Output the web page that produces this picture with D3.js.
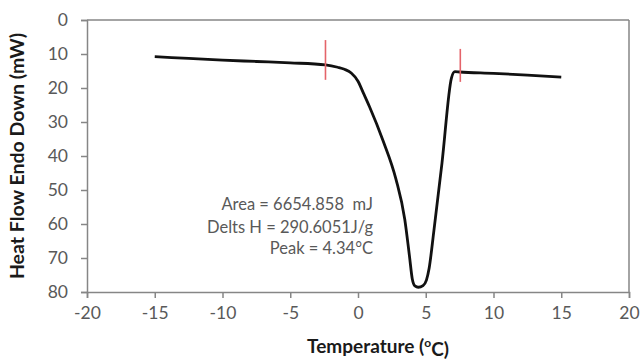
<!DOCTYPE html>
<html>
<head>
<meta charset="utf-8">
<script src="https://cdn.jsdelivr.net/npm/d3@7"></script>
<style>
  html, body { margin: 0; padding: 0; background: #fff; }
  svg { display: block; }
  text { font-family: Lato, "Open Sans", sans-serif; }
</style>
</head>
<body>
<svg id="chart" width="640" height="360"></svg>
<script>
// ---- data ----
const temperature = [-15, -12.5, -10, -7.5, -5, -2.4, -1.5, -1.0, -0.5, 0, 0.4, 0.85, 1.85, 2.8, 3.45, 3.8, 4.0, 4.2, 4.45, 4.8, 5.05, 5.25, 5.6, 6.2, 6.9, 7.15, 7.5, 10, 12.5, 15];
const heatFlow    = [10.8, 11.3, 11.8, 12.2, 12.6, 13.2, 13.9, 14.5, 15.6, 18.0, 21.5, 25.5, 35.5, 46.8, 58.6, 69.5, 76.0, 78.2, 78.6, 78.1, 76.5, 73.0, 62.0, 42.0, 17.0, 15.2, 15.3, 15.7, 16.2, 16.8];
const markerX      = [-2.4, 7.55];
const markerTop    = [5.9, 8.5];
const markerBottom = [17.6, 18.2];
const xTicks = [-20, -15, -10, -5, 0, 5, 10, 15, 20];
const yTicks = [0, 10, 20, 30, 40, 50, 60, 70, 80];
const annotations = ["Area = 6654.858  mJ", "Delts H = 290.6051J/g", "Peak = 4.34°C"];
const xTitle = "Temperature (";
const yTitle = "Heat Flow Endo Down (mW)";

// ---- layout ----
const W = 640, H = 360;
const m = { left: 87, right: 11, top: 20, bottom: 68 };
const svg = d3.select("#chart");
const x = d3.scaleLinear().domain([-20, 20]).range([m.left, W - m.right]);
const y = d3.scaleLinear().domain([0, 80]).range([m.top, H - m.bottom]);

const axisColor = "#868686";
const labelColor = "#595959";

// frame (top and right)
svg.append("line").attr("x1", x(-20)).attr("x2", x(20)).attr("y1", y(0)).attr("y2", y(0))
  .attr("stroke", axisColor).attr("stroke-width", 1.5);
svg.append("line").attr("x1", x(20)).attr("x2", x(20)).attr("y1", y(0)).attr("y2", y(80))
  .attr("stroke", axisColor).attr("stroke-width", 1.5);

// x axis
const gx = svg.append("g").attr("transform", `translate(0,${y(80)})`)
  .call(d3.axisBottom(x).tickValues(xTicks).tickSize(6).tickPadding(9).tickFormat(d3.format("d")));
// y axis
const gy = svg.append("g").attr("transform", `translate(${x(-20)},0)`)
  .call(d3.axisLeft(y).tickValues(yTicks).tickSize(6).tickPadding(13).tickFormat(d3.format("d")));

[gx, gy].forEach(g => {
  g.select(".domain").attr("stroke", axisColor).attr("stroke-width", 1.5);
  g.selectAll(".tick line").attr("stroke", axisColor).attr("stroke-width", 1.5);
  g.selectAll(".tick text").attr("fill", labelColor).style("font-size", "17.5px")
    .style("font-family", "Lato, 'Open Sans', sans-serif");
});
gx.selectAll(".tick text").text(d => d < 0 ? "-" + Math.abs(d) : d);

// curve
const pts = temperature.map((t, i) => [t, heatFlow[i]]);
const line = d3.line().x(d => x(d[0])).y(d => y(d[1])).curve(d3.curveMonotoneX);
svg.append("path").attr("d", line(pts)).attr("fill", "none")
  .attr("stroke", "#111").attr("stroke-width", 2.8).attr("stroke-linejoin", "round");

// red markers
markerX.forEach((mx, i) => {
  svg.append("line").attr("x1", x(mx)).attr("x2", x(mx))
    .attr("y1", y(markerTop[i])).attr("y2", y(markerBottom[i]))
    .attr("stroke", "#e4646a").attr("stroke-width", 1.6);
});

// annotations
const annY = [204, 227, 248];
annotations.forEach((t, i) => {
  svg.append("text").attr("x", 373).attr("y", annY[i]).attr("dy", "0.35em")
    .attr("text-anchor", "end").attr("fill", labelColor)
    .style("font-size", "16.5px").style("white-space", "pre").text(t);
});

// axis titles
const xt = svg.append("text").attr("x", 378).attr("y", 346).attr("dy", "0.35em")
  .attr("text-anchor", "middle").attr("fill", "#1a1a1a")
  .style("font-size", "19px").style("font-weight", "bold");
xt.append("tspan").text(xTitle);
xt.append("tspan").attr("dy", "-0.45em").style("font-size", "12px").text("o");
xt.append("tspan").attr("dy", "0.45em").text("C)");

svg.append("text").attr("transform", `translate(17,${(y(0) + y(80)) / 2}) rotate(-90)`)
  .attr("dy", "0.35em").attr("text-anchor", "middle").attr("fill", "#1a1a1a")
  .style("font-size", "19.5px").style("font-weight", "bold").text(yTitle);
</script>
</body>
</html>
